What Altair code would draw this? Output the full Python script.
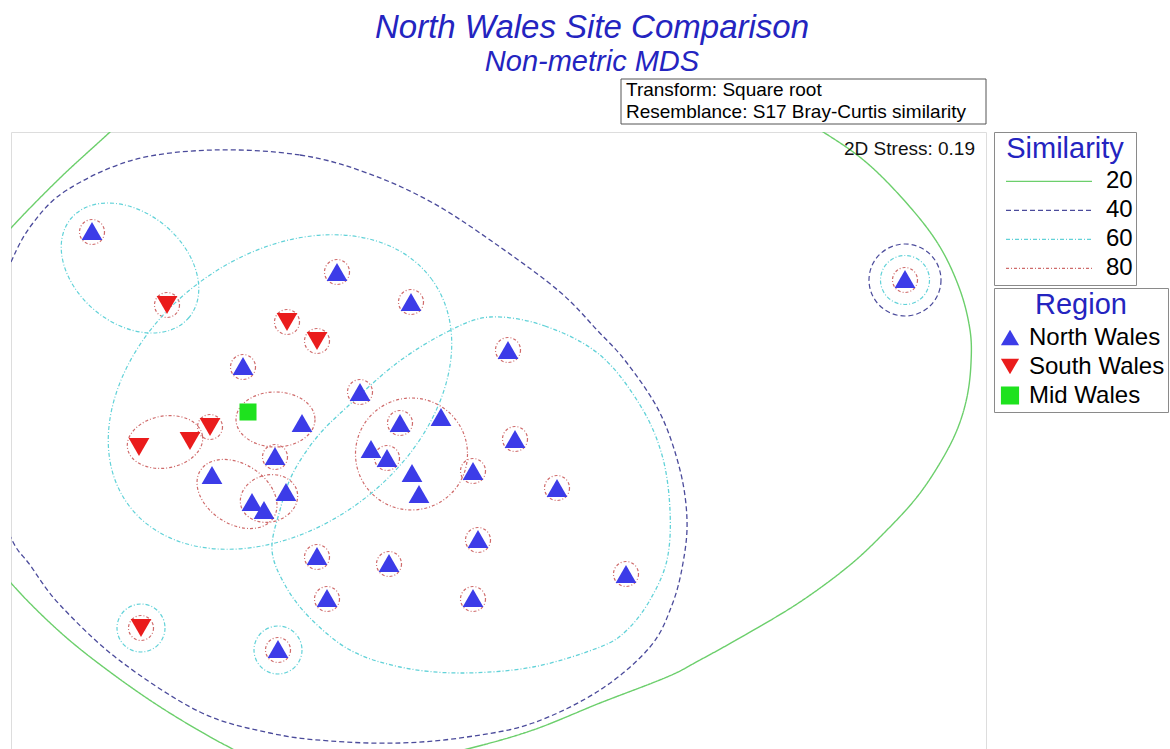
import altair as alt
import pandas as pd

# ---------------- data (plot units: x right, y down) ----------------
TITLE = "North Wales Site Comparison"
SUBTITLE = "Non-metric MDS"
NOTE_1 = "Transform: Square root"
NOTE_2 = "Resemblance: S17 Bray-Curtis similarity"
STRESS_TEXT = "2D Stress: 0.19"

REGIONS = ["North Wales", "South Wales", "Mid Wales"]
NORTH_X = [92, 337, 411, 508, 243, 360, 400, 441, 302, 515, 371, 387, 412, 419, 473,
           275, 212, 286, 252, 264, 557, 478, 317, 389, 626, 327, 473, 278, 905]
NORTH_Y = [231, 272, 302, 350, 366, 392, 423, 417, 423, 439, 449, 458, 473, 494, 471,
           456, 475, 492, 502, 510, 488, 539, 556, 563, 574, 598, 598, 649, 279]
SOUTH_X = [167, 287, 317, 210, 190, 139, 141]
SOUTH_Y = [305, 322, 341, 427, 441, 447, 628]
MID_X = [248]
MID_Y = [412]

LEVELS = ["20", "40", "60", "80"]

# single-site circles (similarity level, centre, radius)
CIRC_LEVEL = ["80"] * 25 + ["60", "60", "60", "40"]
CIRC_X = [92, 167, 337, 411, 287, 317, 508, 243, 360, 400, 387, 515, 473, 557, 275,
          210, 478, 317, 389, 327, 473, 626, 141, 278, 905,
          141, 278, 905, 905]
CIRC_Y = [232, 305, 272, 302, 322, 341, 350, 367, 392, 423, 458, 439, 471, 488, 457,
          427, 540, 557, 564, 599, 599, 574, 628, 650, 280,
          628, 650, 280, 280]
CIRC_R = [12.5] * 25 + [24, 24, 24.5, 36]

# group ellipses (level, centre, semi-axes, rotation in degrees)
ELL_LEVEL = ["80", "80", "80", "80", "80", "60", "60"]
ELL_X = [165, 275.5, 237, 269, 411.5, 130, 280]
ELL_Y = [442, 419.5, 494, 498.5, 454, 268, 392]
ELL_A = [38, 39.5, 43.5, 29, 56, 77, 189]
ELL_B = [26, 27.5, 30, 23.5, 56, 55, 136]
ELL_ANGLE = [350, 0, 33, 345, 0, 40, 323]

# large contours traced point by point
C20_X = [110, 160, 250, 380, 520, 650, 760, 820, 867, 910, 940, 960, 970, 971, 967, 957,
         940, 917, 887, 850, 800, 745, 700, 667, 600, 533, 467, 400, 330, 270, 225, 165,
         110, 60, 11, -25, -45, -40, -15, 11, 60]
C20_Y = [132, 85, 40, 5, 0, 35, 95, 130, 163, 207, 247, 290, 330, 363, 397, 430,
         463, 497, 530, 565, 602, 635, 660, 677, 703, 730, 749, 763, 770, 765, 745, 710,
         672, 632, 583, 535, 420, 320, 260, 228, 178]
C40_X = [213, 300, 367, 433, 500, 560, 597, 627, 660, 680, 687, 683, 672, 650, 600, 533,
         467, 400, 330, 270, 200, 119, 60, 30, 11, -15, -25, -15, 11, 33, 67, 133]
C40_Y = [150, 155, 173, 203, 247, 292, 330, 363, 413, 470, 520, 563, 605, 647, 690, 723,
         737, 743, 741, 733, 712, 660, 605, 565, 538, 470, 400, 330, 262, 223, 190, 160]
C60_X = [490, 545, 600, 640, 662, 670, 667, 650, 627, 600, 533, 460, 400, 350, 310, 285,
         272, 280, 293, 317, 347, 397, 447]
C60_Y = [317, 326, 355, 405, 455, 510, 560, 600, 630, 647, 667, 673, 667, 650, 618, 585,
         550, 510, 473, 437, 407, 363, 332]

# ---------------- styles ----------------
FONT = "Liberation Sans"
TITLE_BLUE = "#2424c0"
REGION_COLORS = ["#3c3ce8", "#ea1c1c", "#1ee21e"]
REGION_SHAPES = ["triangle-up", "triangle-down", "square"]
LEVEL_COLORS = ["#6ccf6c", "#4b4b9b", "#62d2d8", "#cf6b6b"]
LEVEL_DASHES = [[1, 0], [5, 3], [4, 2, 1, 2], [3, 2, 1, 2]]

XS = alt.Scale(domain=[11, 986], nice=False, zero=False)
YS = alt.Scale(domain=[132, 749], nice=False, zero=False, reverse=True)

COMMON_LEGEND = dict(
    orient="none", legendX=983, padding=3, titlePadding=4,
    strokeColor="#8a8a8a", fillColor="white",
    titleFont=FONT, titleFontSize=29, titleColor=TITLE_BLUE, titleFontWeight="normal",
    titleAnchor="middle", titleLimit=400,
    labelFont=FONT, labelFontSize=24, labelColor="black", labelLimit=300,
)
SIM_LEGEND = alt.Legend(
    title="Similarity", legendY=0,
    symbolType="stroke", symbolSize=7396, symbolStrokeWidth=1.3, symbolOffset=8,
    clipHeight=26.7, rowPadding=2, labelOffset=13, **COMMON_LEGEND,
)
REG_LEGEND = alt.Legend(
    title="Region", legendY=156,
    symbolSize=330, symbolOpacity=1, symbolOffset=1,
    clipHeight=27, rowPadding=2, labelOffset=7, **COMMON_LEGEND,
)


def level_enc():
    return dict(
        stroke=alt.Stroke("level:N", scale=alt.Scale(domain=LEVELS, range=LEVEL_COLORS),
                          legend=SIM_LEGEND),
        strokeDash=alt.StrokeDash("level:N", scale=alt.Scale(domain=LEVELS, range=LEVEL_DASHES),
                                  legend=SIM_LEGEND),
    )


def region_enc():
    return dict(
        color=alt.Color("Region:N", scale=alt.Scale(domain=REGIONS, range=REGION_COLORS),
                        legend=REG_LEGEND),
        shape=alt.Shape("Region:N", scale=alt.Scale(domain=REGIONS, range=REGION_SHAPES),
                        legend=REG_LEGEND),
    )


X = alt.X("x:Q", scale=XS, axis=None)
Y = alt.Y("y:Q", scale=YS, axis=None)

layers = []

# traced contours
for lev, xs, ys in [("20", C20_X, C20_Y), ("40", C40_X, C40_Y), ("60", C60_X, C60_Y)]:
    df = pd.DataFrame({"x": xs, "y": ys, "i": list(range(len(xs))), "level": lev})
    layers.append(
        alt.Chart(df).mark_line(interpolate="cardinal-closed", clip=True,
                                strokeWidth=1.4 if lev == "20" else 1.3)
        .encode(x=X, y=Y, order=alt.Order("i:Q"), **level_enc())
    )

# circles
circ = pd.DataFrame({"x": CIRC_X, "y": CIRC_Y, "level": CIRC_LEVEL, "r": CIRC_R})
circ["size"] = (2 * circ["r"]) ** 2
layers.append(
    alt.Chart(circ).mark_point(shape="circle", filled=False, opacity=1, strokeWidth=1.2, clip=True)
    .encode(x=X, y=Y, size=alt.Size("size:Q", scale=None), **level_enc())
)

# ellipses
K = 0.5523
for lev, cx, cy, a, b, ang in zip(ELL_LEVEL, ELL_X, ELL_Y, ELL_A, ELL_B, ELL_ANGLE):
    r = b / a
    path = (f"M 1 0 C 1 {K*r:.4f} {K} {r:.4f} 0 {r:.4f} "
            f"C {-K} {r:.4f} -1 {K*r:.4f} -1 0 "
            f"C -1 {-K*r:.4f} {-K} {-r:.4f} 0 {-r:.4f} "
            f"C {K} {-r:.4f} 1 {-K*r:.4f} 1 0 Z")
    df = pd.DataFrame({"x": [cx], "y": [cy], "level": [lev],
                       "size": [(2 * a) ** 2], "angle": [ang]})
    layers.append(
        alt.Chart(df).mark_point(shape=path, filled=False, opacity=1, strokeWidth=1.2, clip=True)
        .encode(x=X, y=Y, size=alt.Size("size:Q", scale=None),
                angle=alt.Angle("angle:Q", scale=None), **level_enc())
    )

# sites
tri = pd.concat([
    pd.DataFrame({"x": NORTH_X, "y": NORTH_Y, "Region": REGIONS[0]}),
    pd.DataFrame({"x": SOUTH_X, "y": SOUTH_Y, "Region": REGIONS[1]}),
], ignore_index=True)
mid = pd.DataFrame({"x": MID_X, "y": MID_Y, "Region": REGIONS[2]})
layers.append(
    alt.Chart(tri).mark_point(filled=True, opacity=1, size=430)
    .encode(x=X, y=Y, **region_enc())
)
layers.append(
    alt.Chart(mid).mark_point(filled=True, opacity=1, size=290)
    .encode(x=X, y=Y, **region_enc())
)

# annotations outside the frame
layers.append(
    alt.Chart(pd.DataFrame({"t": [TITLE]})).mark_text(
        font=FONT, fontSize=33, fontStyle="italic", color=TITLE_BLUE,
        align="center", baseline="alphabetic")
    .encode(x=alt.value(581), y=alt.value(-94), text="t:N")
)
layers.append(
    alt.Chart(pd.DataFrame({"t": [SUBTITLE]})).mark_text(
        font=FONT, fontSize=29, fontStyle="italic", color=TITLE_BLUE,
        align="center", baseline="alphabetic")
    .encode(x=alt.value(581), y=alt.value(-61), text="t:N")
)
layers.append(
    alt.Chart(pd.DataFrame({"t": [NOTE_1]})).mark_rect(fill="white", stroke="#555555", strokeWidth=1)
    .encode(x=alt.value(610), x2=alt.value(975), y=alt.value(-53), y2=alt.value(-8))
)
layers.append(
    alt.Chart(pd.DataFrame({"t": [NOTE_1]})).mark_text(
        font=FONT, fontSize=19, color="black", align="left", baseline="alphabetic")
    .encode(x=alt.value(615), y=alt.value(-36), text="t:N")
)
layers.append(
    alt.Chart(pd.DataFrame({"t": [NOTE_2]})).mark_text(
        font=FONT, fontSize=19, color="black", align="left", baseline="alphabetic")
    .encode(x=alt.value(615), y=alt.value(-14), text="t:N")
)
layers.append(
    alt.Chart(pd.DataFrame({"t": [STRESS_TEXT]})).mark_text(
        font=FONT, fontSize=19, color="#111111", align="right", baseline="alphabetic")
    .encode(x=alt.value(964), y=alt.value(23), text="t:N")
)

chart = (
    alt.layer(*layers)
    .properties(width=975, height=617,
                padding={"left": 11, "top": 132, "right": 184, "bottom": 0},
                autosize=alt.AutoSizeParams(type="none"))
    .configure_view(stroke="#8c8c8c", strokeWidth=1.5)
    .configure(font=FONT)
)

chart.save("out.html", embed_options={"renderer": "svg", "actions": False})
